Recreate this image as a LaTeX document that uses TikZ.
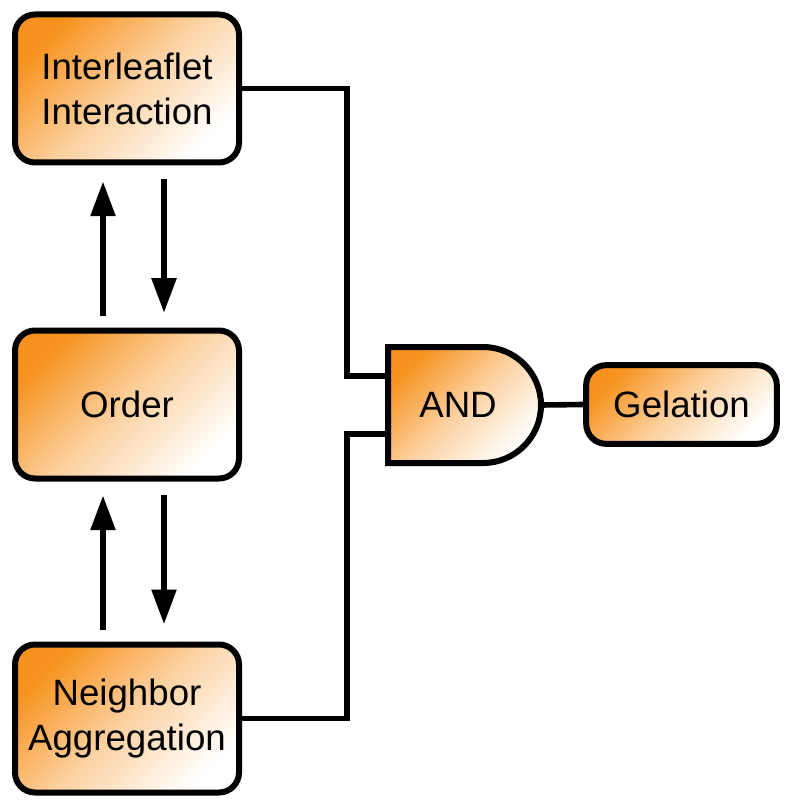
\documentclass[tikz,border=0pt]{standalone}
\usepackage{fontspec}
\setmainfont{Liberation Sans}
\usetikzlibrary{positioning, arrows.meta}
\definecolor{gelorange}{RGB}{247,146,30}
\tikzstyle{statebox} = [draw, line width=4.5pt, rectangle, rounded corners=15pt, top color=gelorange, bottom color=white, middle color=gelorange!42!white, shading angle=45, minimum width=168pt, minimum height=111pt, align=center, font=\fontsize{27.5}{33.75}\selectfont]
\tikzstyle{gate} = [draw, line width=4.5pt, top color=gelorange, bottom color=white, middle color=gelorange!42!white, shading angle=45]
\tikzstyle{wire} = [line width=4.2pt]
\tikzstyle{flow} = [line width=4.2pt, -{Triangle[length=26pt,width=18pt]}]

\begin{document}
\begin{tikzpicture}[x=0.75pt, y=-0.75pt]
  \useasboundingbox (0,0) rectangle (792,809);
  % three state boxes on the left
  \node[statebox] (inter) at (127,88.5) {Interleaflet\\Interaction};
  \node[statebox] (order) at (127,404.5) {Order};
  \node[statebox] (neigh) at (127,718.5) {Neighbor\\Aggregation};

  % feedback arrows
  \draw[flow] ([xshift=-18pt,yshift=9pt]order.north) -- ([xshift=-18pt,yshift=-12pt]inter.south);
  \draw[flow] ([xshift=27.75pt,yshift=-10.5pt]inter.south) -- ([xshift=27.75pt,yshift=11pt]order.north);
  \draw[flow] ([xshift=-18pt,yshift=9pt]neigh.north) -- ([xshift=-18pt,yshift=-10.5pt]order.south);
  \draw[flow] ([xshift=27.75pt,yshift=-10pt]order.south) -- ([xshift=27.75pt,yshift=13pt]neigh.north);

  % and gate
  \shade[gate] (388,347) -- (483,347) arc(-90:90:58) -- (388,463) -- cycle;
  \coordinate (in1) at (388,376);
  \coordinate (in2) at (388,434);
  \coordinate (out) at (541,405);
  \node[font=\fontsize{27.5}{33.75}\selectfont] (and) at (458,405) {AND};

  \node[statebox, minimum width=143pt, minimum height=59pt] (gel) at (681.5,404.5) {Gelation};

  % wires into and out of the gate
  \draw[wire] (inter.east) -| (347,376) -- (in1);
  \draw[wire] (neigh.east) -| (347,434) -- (in2);
  \draw[wire] (out) -- (gel.west);
\end{tikzpicture}
\end{document}
